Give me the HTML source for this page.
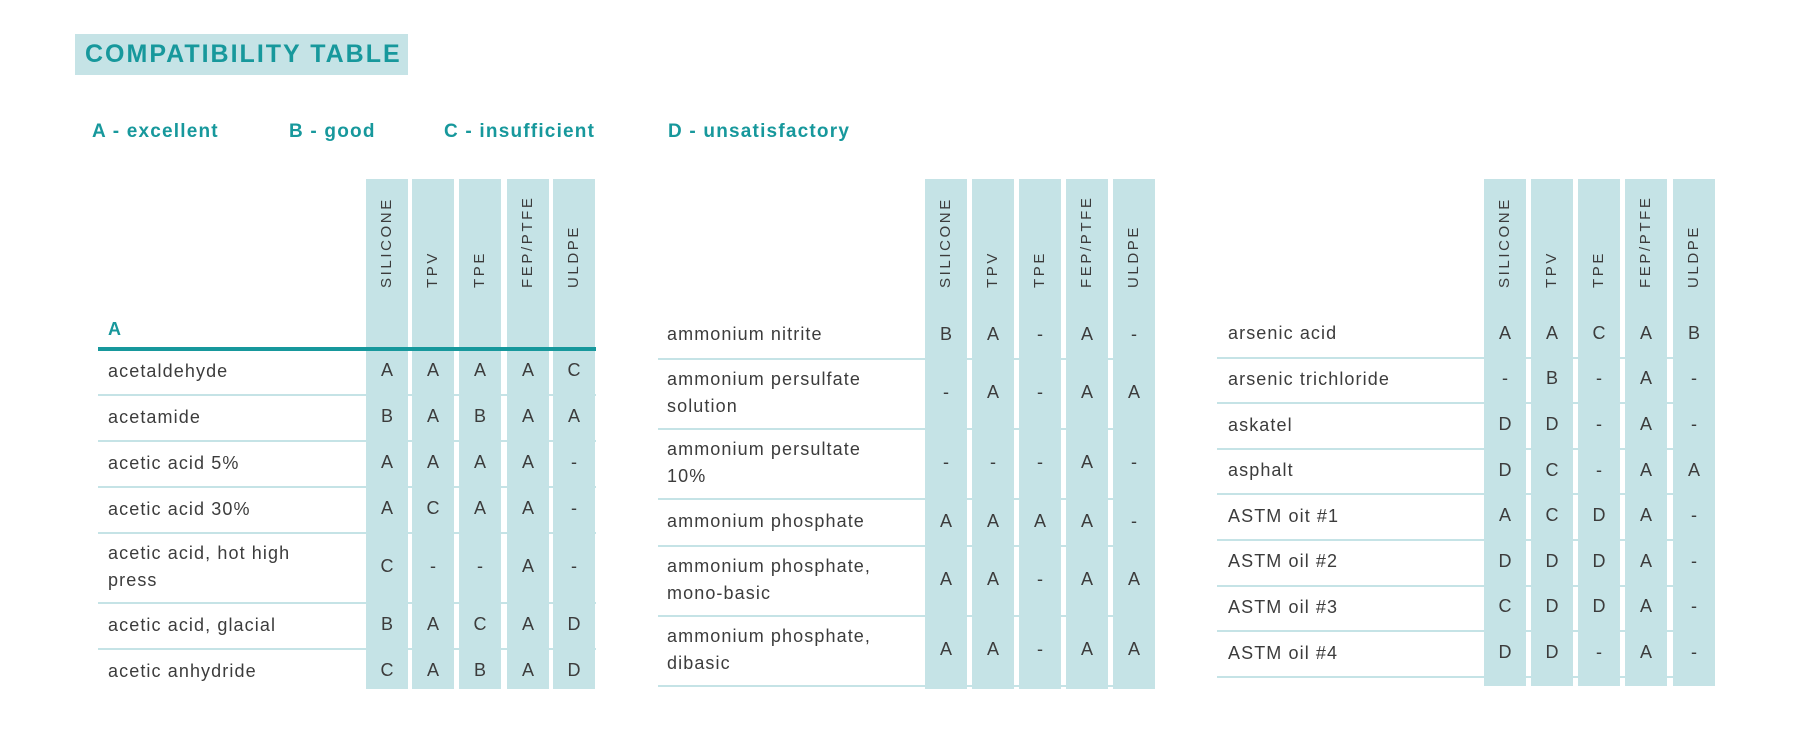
<!DOCTYPE html>
<html><head><meta charset="utf-8">
<style>
html,body{margin:0;padding:0;background:#fff;}
#page{position:relative;width:1800px;height:744px;overflow:hidden;font-family:"Liberation Sans",sans-serif;color:#3c3c3c;}
.abs{position:absolute;}
#title{left:75px;top:34px;width:333px;height:41px;background:#c5e3e6;}
#title span{position:absolute;left:10px;top:6px;font-size:25px;font-weight:bold;color:#17989c;letter-spacing:2px;font-family:"Liberation Sans Narrow","Liberation Sans",sans-serif;}
.leg{top:121px;font-size:19px;font-weight:bold;color:#17989c;letter-spacing:1.2px;}
.col{background:#c5e3e6;}
.hdr{font-size:15px;letter-spacing:2.6px;color:#3c3c3c;transform-origin:0 0;transform:rotate(-90deg);white-space:nowrap;}
.sep{height:2px;background:#c5e3e6;}
.lbl{font-size:18px;line-height:27px;letter-spacing:1.1px;}
.val{font-size:18px;text-align:center;width:42px;}
</style></head>
<body>
<div id="page">
<div id="title" class="abs"><span>COMPATIBILITY TABLE</span></div>
<div class="abs leg" style="left:92px">A - excellent</div>
<div class="abs leg" style="left:289px">B - good</div>
<div class="abs leg" style="left:444px">C - insufficient</div>
<div class="abs leg" style="left:668px">D - unsatisfactory</div>
</div>
<script>
const materials=["SILICONE","TPV","TPE","FEP/PTFE","ULDPE"];
const t1Names=[["acetaldehyde"],["acetamide"],["acetic acid 5%"],["acetic acid 30%"],["acetic acid, hot high","press"],["acetic acid, glacial"],["acetic anhydride"]];
const t1Vals=[["A","A","A","A","C"],["B","A","B","A","A"],["A","A","A","A","-"],["A","C","A","A","-"],["C","-","-","A","-"],["B","A","C","A","D"],["C","A","B","A","D"]];
const t2Names=[["ammonium nitrite"],["ammonium persulfate","solution"],["ammonium persultate","10%"],["ammonium phosphate"],["ammonium phosphate,","mono-basic"],["ammonium phosphate,","dibasic"]];
const t2Vals=[["B","A","-","A","-"],["-","A","-","A","A"],["-","-","-","A","-"],["A","A","A","A","-"],["A","A","-","A","A"],["A","A","-","A","A"]];
const t3Names=[["arsenic acid"],["arsenic trichloride"],["askatel"],["asphalt"],["ASTM oit #1"],["ASTM oil #2"],["ASTM oil #3"],["ASTM oil #4"]];
const t3Vals=[["A","A","C","A","B"],["-","B","-","A","-"],["D","D","-","A","-"],["D","C","-","A","A"],["A","C","D","A","-"],["D","D","D","A","-"],["C","D","D","A","-"],["D","D","-","A","-"]];

const page=document.getElementById('page');
function mk(cls,style,text){const d=document.createElement('div');d.className='abs '+cls;Object.assign(d.style,style);if(text!==undefined)d.textContent=text;page.appendChild(d);return d;}

function table(id,cfg,names,vals){
  cfg.cols.forEach((x,i)=>{
    const c=mk('col',{left:x+'px',top:'179px',width:'42px',height:(cfg.bottom-179)+'px'});
    
    
    const h=mk('hdr',{left:(x+12)+'px',top:'288px'},materials[i]);
    
    
  });
  let y=cfg.start;
  names.forEach((n,r)=>{
    const hgt=n.length>1?cfg.dbl:cfg.sgl;
    const l=mk('lbl',{left:cfg.lx+'px',top:(y+hgt/2-n.length*13.5-1)+'px'});
    l.innerHTML=n.join('<br>');
    
    
    vals[r].forEach((v,i)=>{
      const e=mk('val',{left:cfg.cols[i]+'px',top:(y+hgt/2-12)+'px'},v);
      
      
    });
    y+=hgt;
    if(r<names.length-1||cfg.lastSep){
      const s=mk('sep',{left:cfg.sx+'px',top:(y-1)+'px',width:(cfg.sw)+'px'});
      
      
    }
  });
}
table('table-1',{cols:[366,412,459,507,553],bottom:689,start:349,sgl:46,dbl:70,lx:108,sx:98,sw:498,lastSep:false},t1Names,t1Vals);
table('table-2',{cols:[925,972,1019,1066,1113],bottom:689,start:312,sgl:47,dbl:70,lx:667,sx:658,sw:497,lastSep:true},t2Names,t2Vals);
table('table-3',{cols:[1484,1531,1578,1625,1673],bottom:686,start:312,sgl:45.6,dbl:70,lx:1228,sx:1217,sw:498,lastSep:true},t3Names,t3Vals);

const hl=mk('',{left:'98px',top:'347px',width:'498px',height:'4px',background:'#17989c'});


const ha=mk('',{left:'108px',top:'319px',fontSize:'18px',fontWeight:'bold',color:'#17989c'},'A');


</script>
</body></html>
